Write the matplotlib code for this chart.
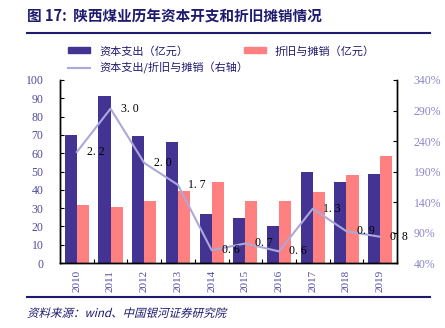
import numpy as np
import matplotlib.pyplot as plt
import matplotlib.transforms as mtransforms
from matplotlib.lines import Line2D
from matplotlib.patches import Patch, PathPatch
from matplotlib.textpath import TextPath
from matplotlib.font_manager import FontProperties

plt.rcParams['font.family'] = ['Liberation Serif', 'Noto Sans CJK SC', 'DejaVu Sans']

years = ['2010', '2011', '2012', '2013', '2014', '2015', '2016', '2017', '2018', '2019']
capex = [70.0, 91.2, 69.4, 66.0, 26.8, 24.4, 20.0, 50.0, 44.0, 48.5]
depr = [31.7, 30.8, 34.0, 39.3, 44.4, 33.7, 33.7, 38.8, 47.9, 58.5]
ratio = [2.2, 3.0, 2.0, 1.7, 0.6, 0.7, 0.6, 1.3, 0.9, 0.8]
ratio_pos = [2.22, 2.93, 2.04, 1.68, 0.61, 0.72, 0.59, 1.29, 0.92, 0.83]

PURPLE = '#433494'
PINK = '#FF8080'
LAVENDER = '#ABA8DA'
NAVY = '#1E1A6E'
TICK_L = '#4E4A9E'
TICK_R = '#8A86C8'

fig = plt.figure(figsize=(4.45, 3.28), dpi=100)
ax = fig.add_axes([60 / 445, 1 - 263 / 328, 337 / 445, 183 / 328])
ax2 = ax.twinx()

x = np.arange(len(years))
w = 0.36
ax.bar(x - w / 2, capex, w, color=PURPLE, zorder=2)
ax.bar(x + w / 2, depr, w, color=PINK, zorder=2)
ax.set_xlim(-0.5, len(years) - 0.5)
ax.set_ylim(0, 100)
ax.set_yticks(range(0, 101, 10))
ax.set_xticks(x)
ax.set_xticklabels(years, rotation=90, color=TICK_L, fontsize=8)
ax.set_xticks(np.arange(0.5, len(years) - 0.5, 1), minor=True)
ax.tick_params(axis='x', which='major', length=0, pad=5)
ax.tick_params(axis='x', which='minor', direction='in', length=3, width=0.8)
ax.tick_params(axis='y', direction='in', length=3, width=0.8, labelsize=8.5,
               labelcolor=TICK_L, pad=12)

ax2.plot(x, np.array(ratio_pos) * 100, color=LAVENDER, lw=1.5, zorder=3)
ax2.set_ylim(40, 340)
ax2.set_yticks(range(40, 341, 50))
ax2.set_yticklabels([f'{v}%' for v in range(40, 341, 50)])
ax2.tick_params(axis='y', direction='in', length=3, width=0.8, labelsize=8.5,
                labelcolor=TICK_R, pad=12)
for xi, rp, r in zip(x, ratio_pos, ratio):
    ax2.text(xi + 0.3, rp * 100, f'{r:.1f}'.replace('.', '. '), fontsize=8.5,
             va='center', ha='left', color='black', zorder=4)

for a in (ax, ax2):
    a.spines['top'].set_visible(False)
    for s in ('left', 'right', 'bottom'):
        a.spines[s].set_linewidth(1.0)
ax.set_zorder(ax2.get_zorder() - 1)
ax.patch.set_visible(False)

cjk = {'family': ['Noto Sans CJK SC'], 'size': 8}
handles = [Patch(color=PURPLE), Patch(color=PINK), Line2D([], [], color=LAVENDER, lw=1.5)]
labels = ['资本支出（亿元）', '折旧与摊销（亿元）', '资本支出/折旧与摊销（右轴）']
fig.legend(handles[:2], labels[:2], loc='center left', bbox_to_anchor=(58 / 445, 1 - 51 / 328),
           ncol=2, frameon=False, columnspacing=5.0, handlelength=2.0, handleheight=0.45,
           prop=cjk, labelcolor=NAVY)
fig.legend(handles[2:], labels[2:], loc='center left', bbox_to_anchor=(58 / 445, 1 - 68 / 328),
           frameon=False, handlelength=2.0, prop=cjk, labelcolor=NAVY)

fig.text(27 / 445, 1 - 17 / 328, '图 17:  陕西煤业历年资本开支和折旧摊销情况', fontsize=10.5,
         fontweight='bold', color=NAVY, va='center', ha='left',
         family=['Noto Sans CJK SC', 'DejaVu Sans'])
fig.add_artist(Line2D([27 / 445, 430 / 445], [1 - 33 / 328] * 2, color=NAVY, lw=1.5))
fig.add_artist(Line2D([27 / 445, 430 / 445], [1 - 297 / 328] * 2, color=NAVY, lw=1.5))

# slanted source line (the CJK font has no italic face)
src = TextPath((0, 0), '资料来源：wind、中国银河证券研究院', size=11.5,
               prop=FontProperties(family='Noto Sans CJK SC'))
tr = (mtransforms.Affine2D().skew_deg(14, 0).scale(1 / 100)
      .translate(27 / 100, (328 - 317) / 100) + fig.dpi_scale_trans)
fig.add_artist(PathPatch(src, transform=tr, color=NAVY, lw=0))

fig.savefig('out.png', dpi=100)
